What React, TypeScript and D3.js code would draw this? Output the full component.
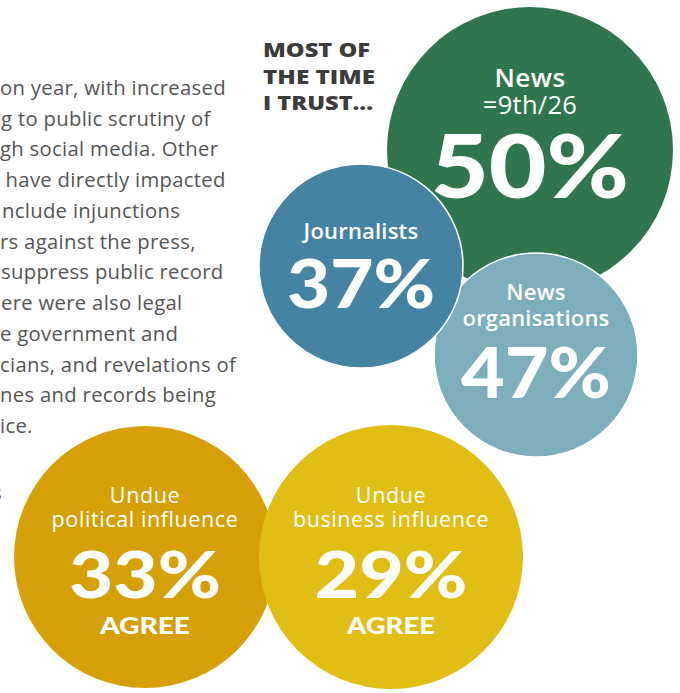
import React from "react";
import * as d3 from "d3";

// ---- Data ----
const trustCategories = ["News", "Journalists", "News organisations"];
const trustValues = [50, 37, 47];
const newsRank = "=9th/26";
const trustHeading = ["MOST OF", "THE TIME", "I TRUST..."];
const influenceCategories = ["Undue political influence", "Undue business influence"];
const influenceValues = [33, 29];
const influenceUnit = "AGREE";
const bodyLines = [
  "on year, with increased",
  "g to public scrutiny of",
  "gh social media. Other",
  " have directly impacted",
  "nclude injunctions",
  "rs against the press,",
  "suppress public record",
  "ere were also legal",
  "e government and",
  "cians, and revelations of",
  "nes and records being",
  "ice.",
];

// ---- Layout / style (kept apart from the data) ----
const W = 680;
const H = 693;
const FONT = "'Open Sans', Lato, sans-serif";
const NUMFONT = "Lato, 'Open Sans', sans-serif";
const colors = {
  news: "#2f764f",
  journalists: "#4484a2",
  orgs: "#7daebc",
  political: "#d5a008",
  business: "#e0be14",
  body: "#555555",
  heading: "#3c3c3c",
};
const bodyStartX = [0, 1, 0, 0, 2, 0, 1, 1, 0, 0, 0, 0];
const headingLen = [107, 112, 110];

const pct = (v: number) => d3.format(".0%")(v / 100);

type Lbl = { text: string; dy: number; size: number; weight: number; len?: number; font?: string; ls?: number };

function Bubble({ cx, cy, r, fill, labels, stroke }: { cx: number; cy: number; r: number; fill: string; labels: Lbl[]; stroke?: boolean }) {
  return (
    <g transform={`translate(${cx},${cy})`}>
      <circle r={r} fill={fill} stroke={stroke ? "#ffffff" : "none"} strokeWidth={stroke ? 1.5 : 0} />
      {labels.map((l, i) => (
        <text
          key={i}
          x={0}
          y={l.dy}
          textAnchor="middle"
          fill="#ffffff"
          fontFamily={l.font || FONT}
          fontSize={l.size}
          fontWeight={l.weight}
          letterSpacing={l.ls || 0}
          textLength={l.len}
          lengthAdjust={l.len ? "spacingAndGlyphs" : undefined}
        >
          {l.text}
        </text>
      ))}
    </g>
  );
}

export default function App() {
  const yBody = d3.scaleLinear().domain([0, bodyLines.length - 1]).range([95, 433]);
  const [pol, bus] = influenceCategories.map((c) => {
    const parts = c.split(" ");
    return [parts[0], parts.slice(1).join(" ")];
  });
  return (
    <svg width={W} height={H} style={{ position: "absolute", left: 0, top: 0, background: "#fff" }}>
      <rect width={W} height={H} fill="#ffffff" />
      {/* body text */}
      <g fontFamily={FONT} fontSize={20.3} letterSpacing={0.3} fill={colors.body}>
        {bodyLines.map((t, i) => (
          <text key={i} x={bodyStartX[i]} y={yBody(i)} xmlSpace="preserve" style={{ whiteSpace: "pre" }}>
            {t}
          </text>
        ))}
        <text x={-8} y={500} fill={colors.body}>s</text>
      </g>
      {/* heading */}
      <g fontFamily={FONT} fontSize={19.5} fontWeight={800} fill={colors.heading}>
        {trustHeading.map((t, i) => (
          <text key={i} x={263} y={57 + i * 26.5} textLength={headingLen[i]} lengthAdjust="spacingAndGlyphs">
            {t}
          </text>
        ))}
      </g>
      {/* trust bubbles */}
      <Bubble
        cx={530}
        cy={150}
        r={143}
        fill={colors.news}
        labels={[
          { text: trustCategories[0], dy: -63, size: 26, weight: 600, ls: 0.5 },
          { text: newsRank, dy: -36, size: 25.5, weight: 400, ls: 0.3 },
          { text: pct(trustValues[0]), dy: 48, size: 88, weight: 900, len: 198, font: NUMFONT },
        ]}
      />
      <Bubble
        cx={536}
        cy={355}
        r={102}
        fill={colors.orgs}
        stroke
        labels={[
          { text: "News", dy: -55, size: 22, weight: 600, ls: 0.2 },
          { text: "organisations", dy: -29, size: 22, weight: 600, ls: 0.2 },
          { text: pct(trustValues[2]), dy: 43, size: 70, weight: 900, len: 150, font: NUMFONT },
        ]}
      />
      <Bubble
        cx={361}
        cy={266}
        r={102}
        fill={colors.journalists}
        stroke
        labels={[
          { text: trustCategories[1], dy: -27, size: 22, weight: 600, ls: 0.2 },
          { text: pct(trustValues[1]), dy: 42, size: 67, weight: 900, len: 148, font: NUMFONT },
        ]}
      />
      {/* influence bubbles */}
      <Bubble
        cx={145}
        cy={557}
        r={131}
        fill={colors.political}
        labels={[
          { text: pol[0], dy: -54, size: 21.5, weight: 400, ls: 0.6 },
          { text: pol[1], dy: -30, size: 21.5, weight: 400, ls: 0.6 },
          { text: pct(influenceValues[0]), dy: 41, size: 64, weight: 900, len: 152, font: NUMFONT },
          { text: influenceUnit, dy: 77, size: 23, weight: 900, len: 90, font: NUMFONT },
        ]}
      />
      <Bubble
        cx={391}
        cy={557}
        r={132}
        fill={colors.business}
        labels={[
          { text: bus[0], dy: -54, size: 21.5, weight: 400, ls: 0.6 },
          { text: bus[1], dy: -30, size: 21.5, weight: 400, ls: 0.6 },
          { text: pct(influenceValues[1]), dy: 41, size: 64, weight: 900, len: 153, font: NUMFONT },
          { text: influenceUnit, dy: 77, size: 23, weight: 900, len: 88, font: NUMFONT },
        ]}
      />
    </svg>
  );
}
